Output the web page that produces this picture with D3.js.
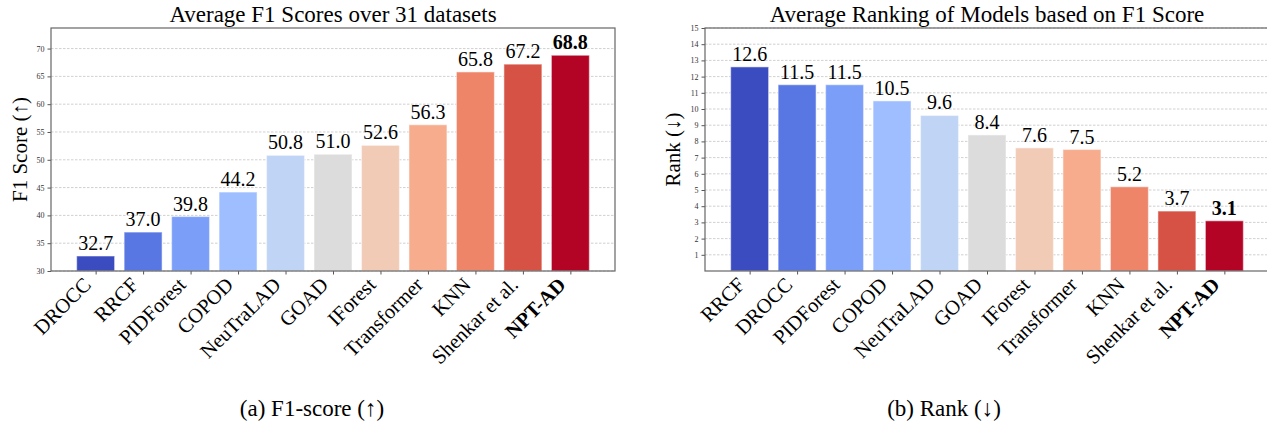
<!DOCTYPE html>
<html>
<head>
<meta charset="utf-8">
<script src="https://cdn.jsdelivr.net/npm/d3@7"></script>
<style>
  body { margin: 0; background: #fff; }
  svg { display: block; font-family: 'Liberation Serif', 'Times New Roman', serif; }
</style>
</head>
<body>
<div id="graph"></div>
<script>
'use strict';

let WIDTH = 1267;
let HEIGHT = 423;

// panel (a): F1 scores
let f1Models = ['DROCC', 'RRCF', 'PIDForest', 'COPOD', 'NeuTraLAD', 'GOAD', 'IForest', 'Transformer', 'KNN', 'Shenkar et al.', 'NPT-AD'];
let f1Scores = [32.7, 37.0, 39.8, 44.2, 50.8, 51.0, 52.6, 56.3, 65.8, 67.2, 68.8];
let f1Ticks = [30, 35, 40, 45, 50, 55, 60, 65, 70];

// panel (b): average rank
let rankModels = ['RRCF', 'DROCC', 'PIDForest', 'COPOD', 'NeuTraLAD', 'GOAD', 'IForest', 'Transformer', 'KNN', 'Shenkar et al.', 'NPT-AD'];
let rankValues = [12.6, 11.5, 11.5, 10.5, 9.6, 8.4, 7.6, 7.5, 5.2, 3.7, 3.1];
let rankTicks = [1, 2, 3, 4, 5, 6, 7, 8, 9, 10, 11, 12, 13, 14, 15];

// coolwarm, 11 steps
let barColors = ['#3b4cc0', '#5977e3', '#7b9ff9', '#9ebeff', '#c0d4f5', '#dddcdc',
                 '#f2cbb7', '#f7ac8e', '#ee8468', '#d65244', '#b40426'];

let BOLD_MODEL = 'NPT-AD';

let svg = d3.select('#graph')
    .append('svg')
    .attr('width', WIDTH)
    .attr('height', HEIGHT);

drawPanel({
    left: 51, right: 615, top: 28, bottom: 271,
    models: f1Models, values: f1Scores, ticks: f1Ticks,
    yDomain: [30, 73.7],
    title: 'Average F1 Scores over 31 datasets',
    yLabel: 'F1 Score (\u2191)', yLabelX: 20,
    caption: '(a) F1-score (\u2191)', captionX: 312,
});

drawPanel({
    left: 705, right: 1269, top: 28, bottom: 271,
    models: rankModels, values: rankValues, ticks: rankTicks,
    yDomain: [0, 15],
    title: 'Average Ranking of Models based on F1 Score',
    yLabel: 'Rank (\u2193)', yLabelX: 673,
    caption: '(b) Rank (\u2193)', captionX: 944,
});

function drawPanel (p) {
    let n = p.models.length;
    let xScale = d3.scaleLinear()
        .domain([-0.94, n - 1 + 0.94])
        .range([p.left, p.right]);
    let yScale = d3.scaleLinear()
        .domain(p.yDomain)
        .range([p.bottom, p.top]);
    let barW = xScale(0.8) - xScale(0);

    let g = svg.append('g');

    // grid
    g.selectAll('.grid')
        .data(p.ticks)
        .enter()
        .append('line')
        .attr('x1', p.left)
        .attr('x2', p.right)
        .attr('y1', d => yScale(d))
        .attr('y2', d => yScale(d))
        .attr('stroke', '#c4c4c4')
        .attr('stroke-width', 0.8)
        .attr('stroke-dasharray', '2.5,1.5');

    // bars
    g.selectAll('.bar')
        .data(p.values)
        .enter()
        .append('rect')
        .attr('x', (d, i) => xScale(i) - barW / 2)
        .attr('y', d => yScale(d))
        .attr('width', barW)
        .attr('height', d => yScale(p.yDomain[0]) - yScale(d))
        .attr('fill', (d, i) => barColors[i])
        .attr('stroke', '#fff')
        .attr('stroke-opacity', 0.45)
        .attr('stroke-width', 1.2);

    // value labels
    g.selectAll('.val')
        .data(p.values)
        .enter()
        .append('text')
        .attr('x', (d, i) => xScale(i))
        .attr('y', d => yScale(d) - 6)
        .attr('text-anchor', 'middle')
        .style('font-size', '20px')
        .style('font-weight', (d, i) => p.models[i] == BOLD_MODEL ? 'bold' : 'normal')
        .text(d => d.toFixed(1));

    // y axis
    let yAxis = d3.axisLeft(yScale)
        .tickValues(p.ticks)
        .tickSize(3.5)
        .tickPadding(3)
        .tickFormat(d3.format('d'));
    let ya = g.append('g')
        .attr('transform', 'translate(' + p.left + ',0)')
        .call(yAxis);
    ya.select('.domain').remove();
    ya.selectAll('line').attr('stroke', '#555');
    ya.selectAll('text')
        .style('font-family', "'Liberation Serif', serif")
        .style('font-size', '8px')
        .attr('fill', '#333');

    // x axis
    let xAxis = d3.axisBottom(xScale)
        .tickValues(d3.range(n))
        .tickSize(3.5)
        .tickFormat(i => p.models[i]);
    let xa = g.append('g')
        .attr('transform', 'translate(0,' + p.bottom + ')')
        .call(xAxis);
    xa.select('.domain').remove();
    xa.selectAll('line').attr('stroke', '#555');
    xa.selectAll('text')
        .style('font-family', "'Liberation Serif', serif")
        .style('font-size', '20.5px')
        .style('font-weight', i => p.models[i] == BOLD_MODEL ? 'bold' : 'normal')
        .attr('fill', '#000')
        .attr('text-anchor', 'end')
        .attr('dy', null)
        .attr('y', null)
        .attr('transform', 'translate(-4,15) rotate(-45)');

    // frame
    g.append('rect')
        .attr('x', p.left)
        .attr('y', p.top)
        .attr('width', p.right - p.left)
        .attr('height', p.bottom - p.top)
        .attr('fill', 'none')
        .attr('stroke', '#666')
        .attr('stroke-width', 1.2);

    // title
    g.append('text')
        .attr('x', (p.left + p.right) / 2)
        .attr('y', p.top - 6)
        .attr('text-anchor', 'middle')
        .style('font-size', '23px')
        .text(p.title);

    // y label
    g.append('text')
        .attr('transform', 'translate(' + p.yLabelX + ',' + ((p.top + p.bottom) / 2) + ') rotate(-90)')
        .attr('text-anchor', 'middle')
        .attr('dy', '0.35em')
        .style('font-size', '21px')
        .text(p.yLabel);

    // caption
    g.append('text')
        .attr('x', p.captionX)
        .attr('y', 416)
        .attr('text-anchor', 'middle')
        .style('font-size', '23px')
        .text(p.caption);
}
</script>
</body>
</html>
